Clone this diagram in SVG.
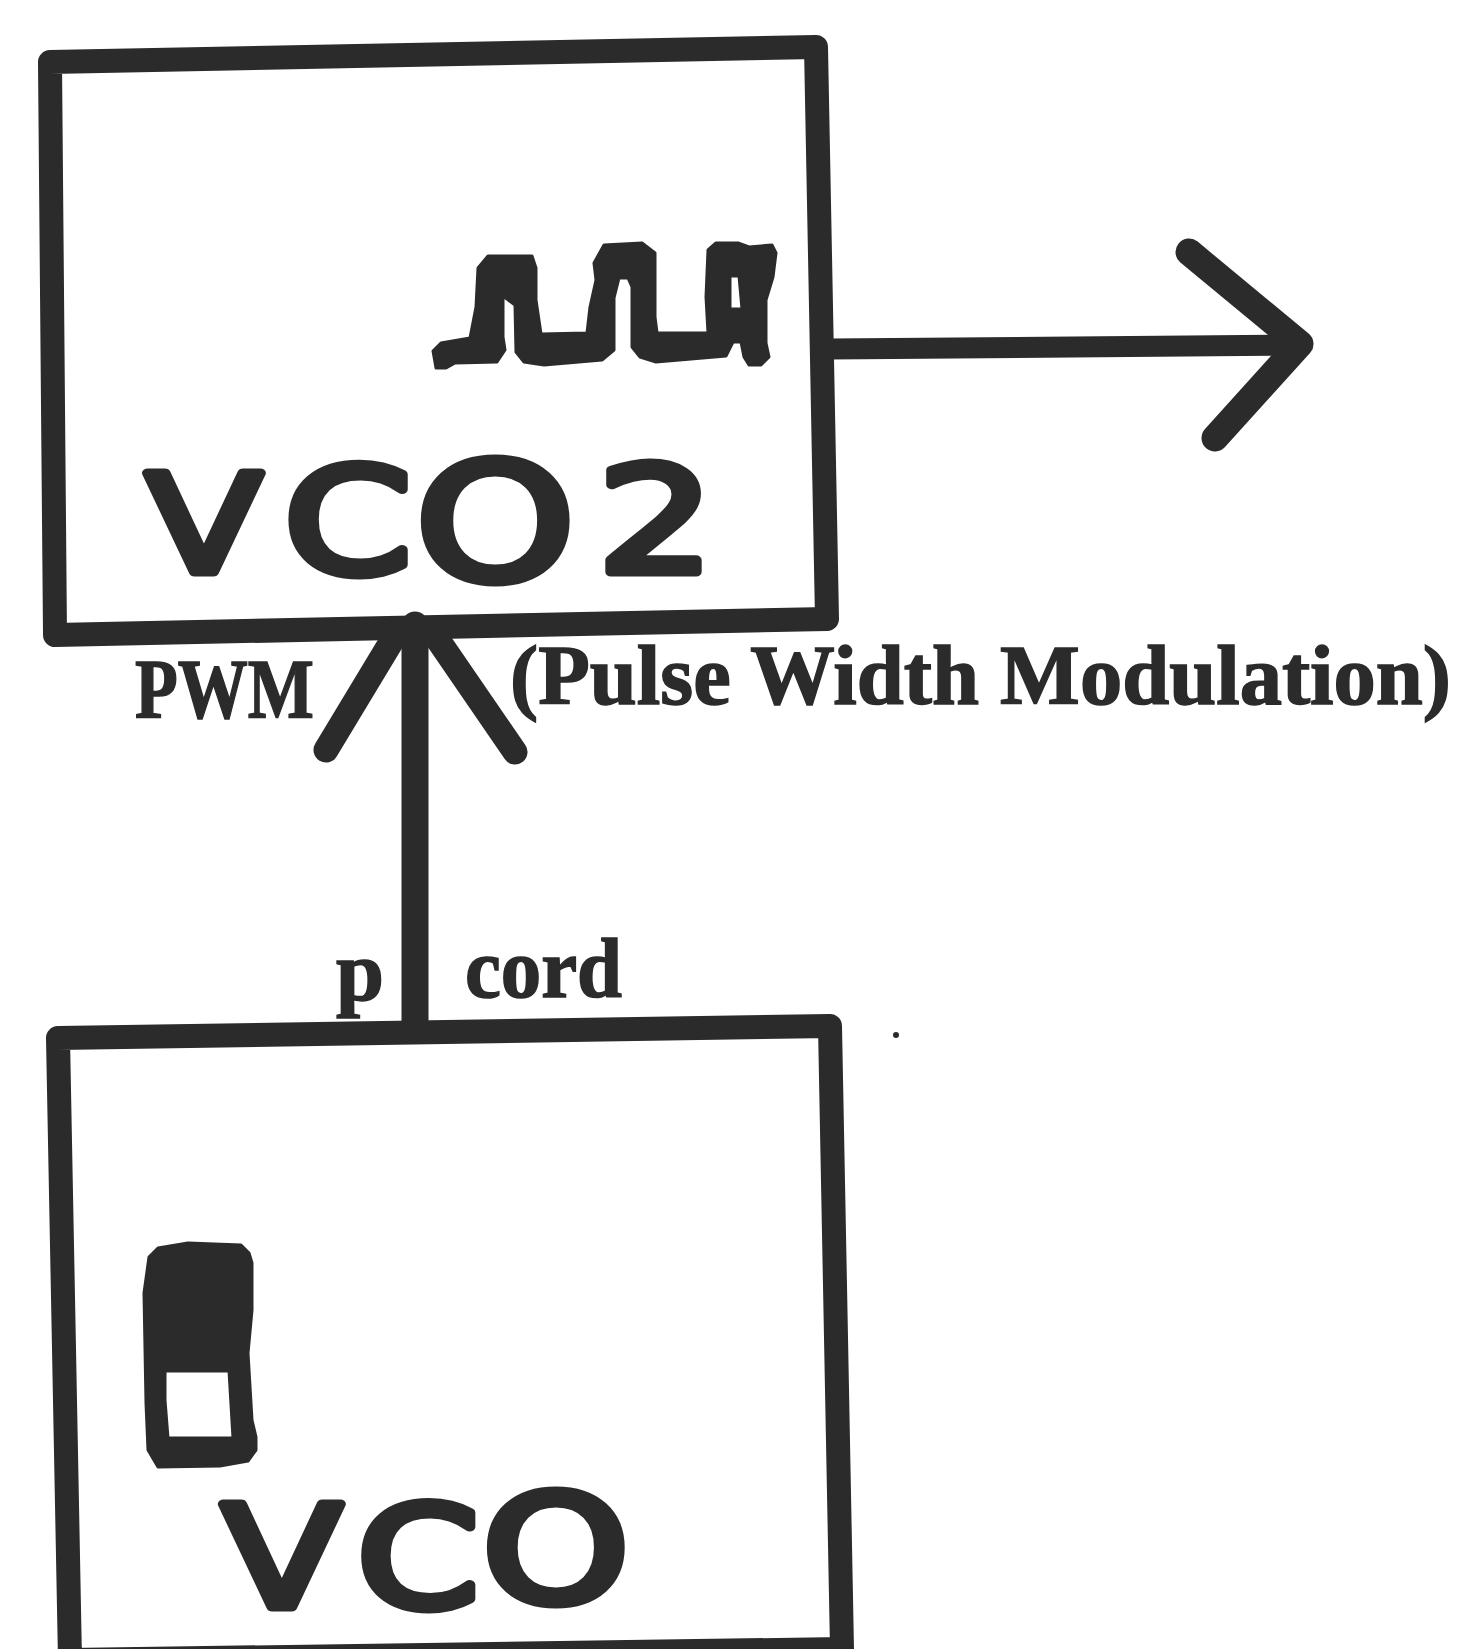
<svg xmlns="http://www.w3.org/2000/svg" width="1467" height="1649" viewBox="0 0 1467 1649">
<style>
.box{fill:none;stroke:#2b2b2b;stroke-width:24;stroke-linejoin:round}
.wire{fill:none;stroke:#2b2b2b;stroke-linecap:round;stroke-linejoin:round}
.ink{fill:#2b2b2b;fill-rule:evenodd;stroke:#2b2b2b;stroke-width:3;stroke-linejoin:round}
.big{font-family:"DejaVu Sans",sans-serif;fill:#2b2b2b;stroke:#2b2b2b;stroke-width:9;stroke-linejoin:round}
.small{font-family:"Liberation Serif","Times New Roman",serif;font-weight:bold;font-size:84px;fill:#2b2b2b;stroke:#2b2b2b;stroke-width:1.5}
</style>
<rect width="1467" height="1649" fill="#fff"/>
<g id="connectors">
<path class="wire" stroke-width="21" d="M830 349L1296 345"/>
<path class="wire" stroke-width="27" d="M1189 252L1300 344L1215 438"/>
<path class="wire" stroke-width="27" d="M415 625V1030" stroke-linecap="butt"/>
<path class="wire" stroke-width="25" d="M326 750L396 634"/>
<path class="wire" stroke-width="25" d="M515 752L434 634"/>
</g>
<g id="vco2">
<path class="box" d="M50 62L816 47L827 619L55 635Z"/>
<path class="ink" d="M433 351L441 343L470 338L476 307L478 268L488 256L532 256L536 268L536 300L541 334L587 333L590 307L596 280L594 263L604 245L642 243L655 253L655 317L657 333L708 333L706 297L708 250L716 243L738 243L749 247L772 245L776 253L773 277L766 300L766 343L769 357L761 365L749 365L744 357L741 342L733 342L726 356L691 359L656 362L640 357L632 347L632 287L628 278L619 278L614 298L614 350L602 360L544 365L524 362L516 352L515 305L503 296L503 337L505 350L497 362L455 363L446 368L436 368Z M730 276L739 276L742 309L730 309Z"/>
<text class="big" transform="scale(1.25 1)"><tspan x="117" y="572" font-size="135">V</tspan><tspan x="227" y="573" font-size="147">C</tspan><tspan x="332" y="580" font-size="163">O</tspan><tspan x="478" y="572" font-size="147">2</tspan></text>
</g>
<g id="vco">
<path class="box" d="M58 1038L830 1026L842 1649L70 1660Z"/>
<path class="ink" d="M158 1248L188 1243L241 1245L249 1253L252 1263L252 1310L248 1353L252 1420L256 1437L256 1450L248 1461L220 1466L158 1467L148 1450L146 1403L144 1293L149 1257Z M165 1371L165 1400L168 1438L233 1438L229 1371Z"/>
<text class="big" transform="scale(1.25 1)"><tspan x="177.6" y="1607" font-size="140">V</tspan><tspan x="285.6" y="1607" font-size="140">C</tspan><tspan x="385.6" y="1602" font-size="150">O</tspan></text>
</g>
<g id="labels">
<text class="small" x="135" y="718" textLength="179" lengthAdjust="spacingAndGlyphs">PWM</text>
<text class="small" x="510" y="704" textLength="941" lengthAdjust="spacingAndGlyphs">(Pulse Width Modulation)</text>
<text class="small" x="336" y="1000" textLength="48" lengthAdjust="spacingAndGlyphs">p</text>
<text class="small" x="465" y="997" textLength="157" lengthAdjust="spacingAndGlyphs">cord</text>
</g>
<circle id="speck" cx="896" cy="1035" r="3" fill="#2b2b2b"/>
</svg>
